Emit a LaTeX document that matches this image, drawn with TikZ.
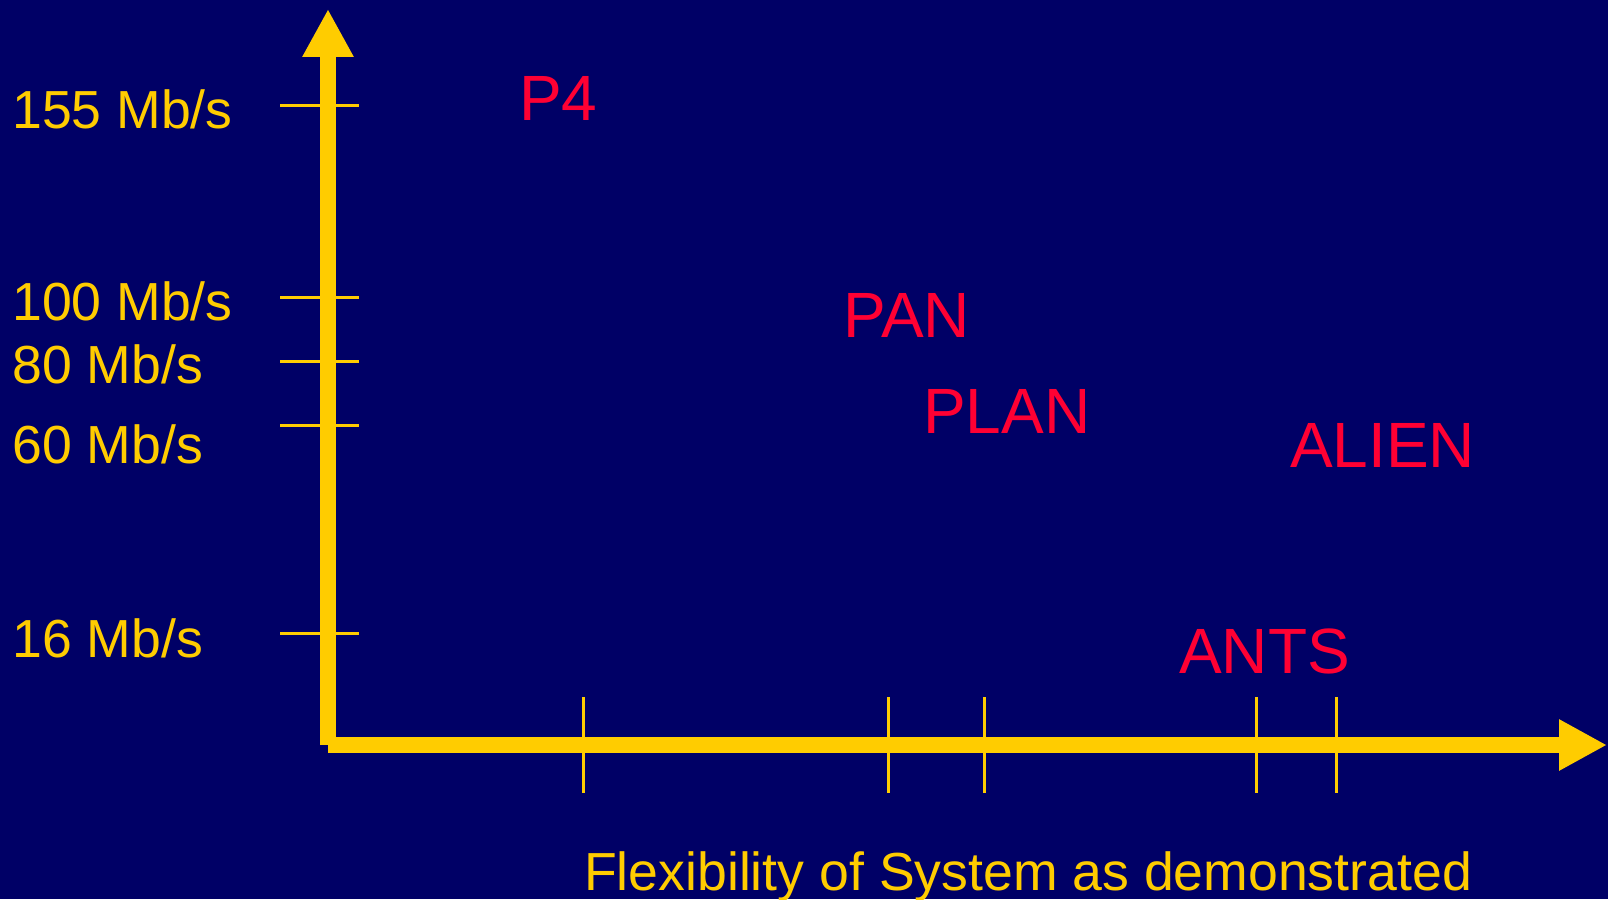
\documentclass[tikz,border=0pt]{standalone}
\usepackage{fontspec}
\setmainfont{Liberation Sans}
\usetikzlibrary{arrows.meta}

\definecolor{slidebg}{RGB}{0,0,102}
\definecolor{axisyellow}{RGB}{255,204,0}
\definecolor{sysred}{RGB}{255,0,51}

\tikzset{
  axis/.style={draw=axisyellow, line width=16pt, -{Triangle[length=48pt,width=48pt]}},
  tick/.style={draw=axisyellow, line width=3pt},
  rate/.style={text=axisyellow, inner sep=0pt, anchor=base west, font=\fontsize{53.6}{60}\selectfont},
  sysname/.style={text=sysred, inner sep=0pt, anchor=base west, font=\fontsize{64}{70}\selectfont}
}

\begin{document}
\begin{tikzpicture}[x=1pt,y=-1pt]
    \fill[slidebg] (0,0) rectangle (1608,899);
    \useasboundingbox (0,0) rectangle (1608,899);

    \coordinate (origin) at (328,745);
    \coordinate (ytop) at (328,9);
    \coordinate (xend) at (1607,745);

    % rate ticks
    \draw[tick] (280,105) -- (359,105);
    \draw[tick] (280,297) -- (359,297);
    \draw[tick] (280,361) -- (359,361);
    \draw[tick] (280,425) -- (359,425);
    \draw[tick] (280,633) -- (359,633);

    % flexibility ticks
    \draw[tick] (583,697) -- (583,793);
    \draw[tick] (888,697) -- (888,793);
    \draw[tick] (984,697) -- (984,793);
    \draw[tick] (1256,697) -- (1256,793);
    \draw[tick] (1336,697) -- (1336,793);

    \draw[axis] (origin) -- (ytop);
    \draw[axis] (origin) -- (xend);

    \node[rate] (r155) at (12,128) {155 Mb/s};
    \node[rate] (r100) at (12,320) {100 Mb/s};
    \node[rate] (r80) at (12,383) {80 Mb/s};
    \node[rate] (r60) at (12,463) {60 Mb/s};
    \node[rate] (r16) at (12,657) {16 Mb/s};

    \node[sysname] (p4) at (519,120) {P4};
    \node[sysname] (pan) at (843,337) {PAN};
    \node[sysname] (plan) at (923,433) {PLAN};
    \node[sysname] (alien) at (1290,467) {ALIEN};
    \node[sysname] (ants) at (1179,673) {ANTS};

    \node[rate] (xlabel) at (584,890) {Flexibility of System as demonstrated};

\end{tikzpicture}
\end{document}
